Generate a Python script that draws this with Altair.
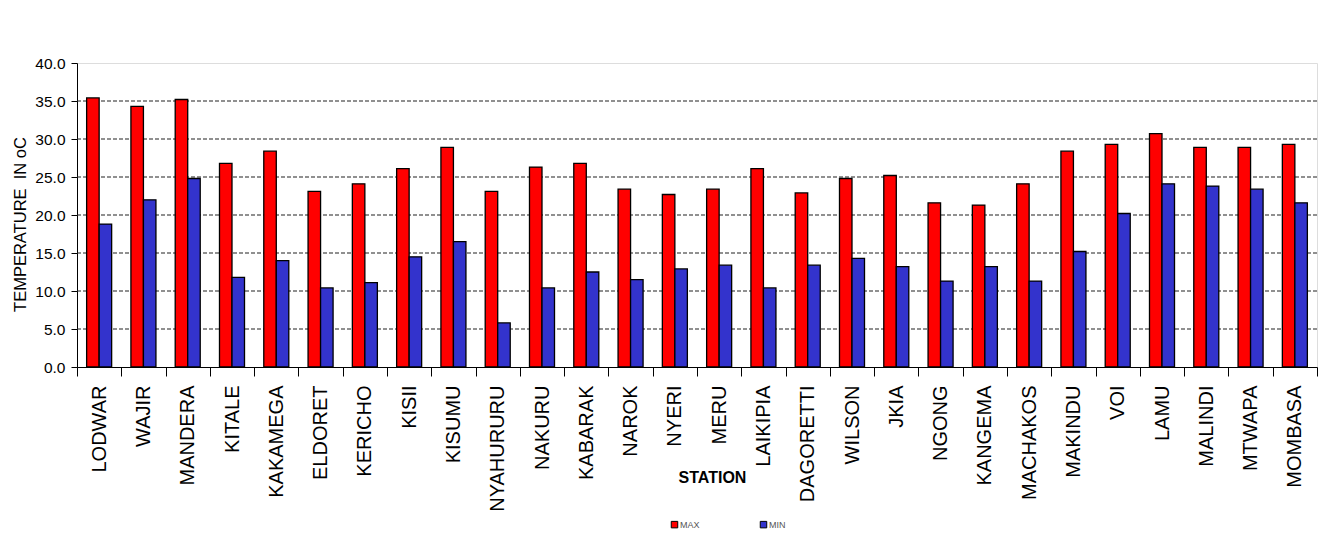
import altair as alt
import pandas as pd

stations = ["LODWAR", "WAJIR", "MANDERA", "KITALE", "KAKAMEGA", "ELDORET", "KERICHO",
            "KISII", "KISUMU", "NYAHURURU", "NAKURU", "KABARAK", "NAROK", "NYERI",
            "MERU", "LAIKIPIA", "DAGORETTI", "WILSON", "JKIA", "NGONG", "KANGEMA",
            "MACHAKOS", "MAKINDU", "VOI", "LAMU", "MALINDI", "MTWAPA", "MOMBASA"]
max_temp = [35.4, 34.3, 35.2, 26.8, 28.4, 23.1, 24.1, 26.1, 28.9, 23.1, 26.3, 26.8, 23.4, 22.7,
            23.4, 26.1, 22.9, 24.8, 25.2, 21.6, 21.3, 24.1, 28.4, 29.3, 30.7, 28.9, 28.9, 29.3]
min_temp = [18.8, 22.0, 24.8, 11.8, 14.0, 10.4, 11.1, 14.5, 16.5, 5.8, 10.4, 12.5, 11.5, 12.9,
            13.4, 10.4, 13.4, 14.3, 13.2, 11.3, 13.2, 11.3, 15.2, 20.2, 24.1, 23.8, 23.4, 21.6]
series = ["MAX", "MIN"]
series_colors = ["#FF0000", "#3333CC"]
y_ticks = [0, 5, 10, 15, 20, 25, 30, 35, 40]
grid_values = [5, 10, 15, 20, 25, 30, 35]

rows = []
for s, mx, mn in zip(stations, max_temp, min_temp):
    rows.append({"station": s, "series": "MAX", "temp": mx})
    rows.append({"station": s, "series": "MIN", "temp": mn})
df = pd.DataFrame(rows)
grid_df = pd.DataFrame({"temp": grid_values})

FONT = "Liberation Sans"

y_scale = alt.Scale(domain=[0, 40], nice=False, zero=True)
y_axis = alt.Axis(title="TEMPERATURE\u00a0 IN oC", values=y_ticks, format=".1f",
                  grid=False, tickSize=6, tickColor="black", domainColor="black",
                  labelPadding=6, labelFontSize=15.5, labelFont=FONT,
                  labelColor="black", titleFont=FONT, titleFontSize=16.5,
                  titleFontWeight="normal", titleColor="black",
                  titleX=-57, titleY=161, titleAngle=270,
                  titleBaseline="middle", titleAlign="center")

grid = alt.Chart(grid_df).mark_rule(color="#222222", strokeWidth=1.2, strokeDash=[4, 2]).encode(
    y=alt.Y("temp:Q", scale=y_scale, axis=y_axis)
)

bars = alt.Chart(df).mark_bar(stroke="black", strokeWidth=1.3).encode(
    x=alt.X("station:N", sort=stations,
            scale=alt.Scale(paddingInner=0, paddingOuter=0),
            axis=alt.Axis(title="STATION", tickBand="extent", tickSize=9, tickColor="black",
                          domainColor="black", labelAngle=270, labelAlign="right",
                          labelBaseline="middle", labelPadding=9, labelFontSize=20,
                          labelFont=FONT, labelColor="black",
                          titleFont=FONT, titleFontSize=16, titleFontWeight="bold",
                          titleColor="black", titleX=635, titleY=110,
                          titleBaseline="middle", titleAlign="center")),
    xOffset=alt.XOffset("series:N", sort=series,
                        scale=alt.Scale(paddingInner=0, paddingOuter=0.77)),
    y=alt.Y("temp:Q", scale=y_scale, axis=y_axis),
    color=alt.Color("series:N", sort=series,
                    scale=alt.Scale(domain=series, range=series_colors),
                    legend=alt.Legend(title=None, orient="none", direction="horizontal",
                                      legendX=593, legendY=457, symbolType="square",
                                      symbolSize=42, symbolStrokeColor="black",
                                      symbolStrokeWidth=1, labelFontSize=9,
                                      labelFont=FONT, labelColor="#555555",
                                      labelOffset=1, columnPadding=58, padding=0)),
)

chart = alt.layer(grid, bars).properties(
    width=1240, height=304,
    autosize=alt.AutoSizeParams(type="none"),
    padding={"left": 69, "top": 55, "right": 10, "bottom": 170},
).configure_view(stroke="#999999", strokeWidth=1).configure(background="white")

chart.save("out.html", embed_options={"renderer": "svg", "actions": False})
